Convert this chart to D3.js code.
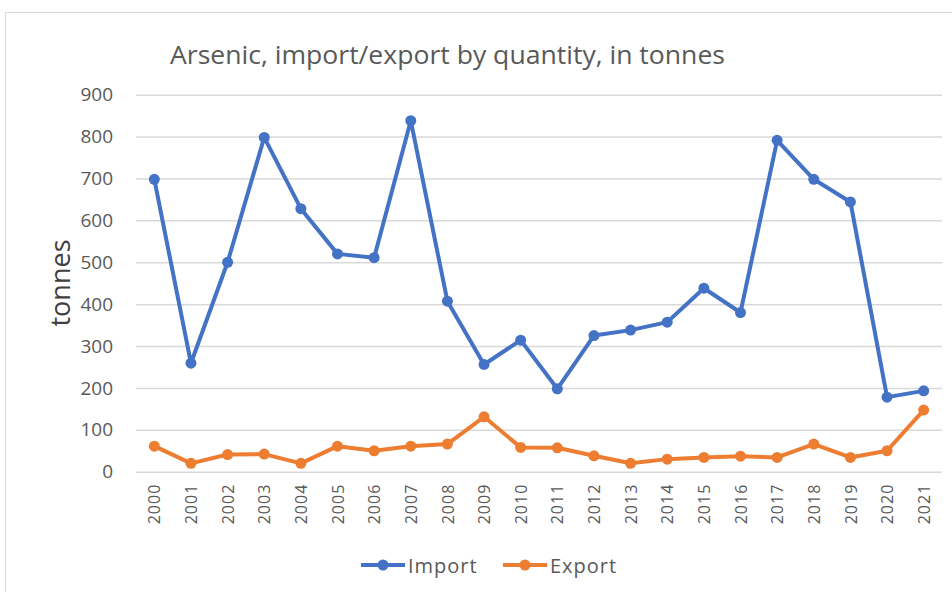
<!DOCTYPE html>
<html>
<head>
<meta charset="utf-8">
<script src="https://cdn.jsdelivr.net/npm/d3@7"></script>
<style>
  body { margin: 0; background: #fff; }
  svg { display: block; }
</style>
</head>
<body>
<div class="container"></div>
<script>
// data
const years = ["2000","2001","2002","2003","2004","2005","2006","2007","2008","2009","2010",
               "2011","2012","2013","2014","2015","2016","2017","2018","2019","2020","2021"];
const importValues = [698, 259, 500, 798, 628, 520, 511, 838, 407, 256, 314,
                      198, 325, 338, 357, 438, 380, 791, 698, 644, 178, 193];
const exportValues = [61, 20, 41, 42, 20, 61, 50, 61, 66, 131, 58,
                      57, 38, 20, 30, 34, 37, 34, 66, 34, 50, 147];
const yTicks = [0, 100, 200, 300, 400, 500, 600, 700, 800, 900];
const seriesNames = ["Import", "Export"];

const w = 952;
const h = 592;
const colors = { Import: "#4472C4", Export: "#ED7D31" };

/* plot area */
const plotLeft = 136, plotRight = 942, plotTop = 94.7, plotBottom = 471.7;

const xScale = d3.scalePoint()
                 .domain(years)
                 .range([plotLeft, plotRight])
                 .padding(0.5);

const yScale = d3.scaleLinear()
                 .domain([0, 900])
                 .range([plotBottom, plotTop]);

const svg = d3.select(".container")
              .append("svg")
              .attr("width", w)
              .attr("height", h);

// chart frame (only top and left edge visible in the reference)
svg.append("path")
   .attr("d", "M5.5,592 V12.5 H952")
   .attr("fill", "none")
   .attr("stroke", "#d9d9d9")
   .attr("stroke-width", 1);

// title
svg.append("text")
   .text("Arsenic, import/export by quantity, in tonnes")
   .attr("x", 170)
   .attr("y", 64)
   .attr("textLength", 555)
   .attr("lengthAdjust", "spacingAndGlyphs")
   .style("font-family", "'Open Sans', sans-serif")
   .style("font-size", "26px")
   .style("fill", "#595959");

/* y axis with gridlines */
const yAxis = d3.axisLeft(yScale)
                .tickValues(yTicks)
                .tickSize(-(plotRight - plotLeft))
                .tickPadding(23);

const gy = svg.append("g")
              .attr("transform", "translate(" + plotLeft + ",0)")
              .call(yAxis);
gy.select(".domain").remove();
gy.selectAll(".tick line")
  .attr("stroke", "#d9d9d9")
  .attr("stroke-width", 1.5);
gy.selectAll(".tick text")
  .style("font-family", "'Open Sans', sans-serif")
  .style("font-size", "19px")
  .style("fill", "#595959");

/* x axis, rotated labels */
const xAxis = d3.axisBottom(xScale).tickSize(0);
const gx = svg.append("g")
              .attr("transform", "translate(0," + plotBottom + ")")
              .call(xAxis);
gx.select(".domain").remove();
gx.selectAll(".tick text")
  .attr("transform", "rotate(-90)")
  .attr("x", -12)
  .attr("y", 0)
  .attr("dy", "0.35em")
  .style("text-anchor", "end")
  .style("font-family", "'Open Sans', sans-serif")
  .style("font-size", "16px")
  .style("letter-spacing", "1px")
  .style("fill", "#595959");

// y axis title
svg.append("text")
   .text("tonnes")
   .attr("transform", "translate(70,283) rotate(-90)")
   .style("text-anchor", "middle")
   .style("font-family", "'Open Sans', sans-serif")
   .style("font-size", "27px")
   .style("fill", "#404040");

/* lines and markers */
const series = [
  { name: "Import", values: importValues },
  { name: "Export", values: exportValues }
];

const line = d3.line()
               .x((d, i) => xScale(years[i]))
               .y((d) => yScale(d));

series.forEach((s) => {
  svg.append("path")
     .datum(s.values)
     .attr("d", line)
     .attr("fill", "none")
     .attr("stroke", colors[s.name])
     .attr("stroke-width", 4)
     .attr("stroke-linejoin", "round");

  svg.selectAll(".dot-" + s.name)
     .data(s.values)
     .enter()
     .append("circle")
     .attr("class", "dot-" + s.name)
     .attr("cx", (d, i) => xScale(years[i]))
     .attr("cy", (d) => yScale(d))
     .attr("r", 5.5)
     .attr("fill", colors[s.name]);
});

/* legend */
const legendX = [361, 503];
const legendY = 565;
seriesNames.forEach((name, i) => {
  const g = svg.append("g").attr("transform", "translate(" + legendX[i] + "," + legendY + ")");
  g.append("line")
   .attr("x1", 0).attr("x2", 44)
   .attr("stroke", colors[name])
   .attr("stroke-width", 4);
  g.append("circle")
   .attr("cx", 22).attr("r", 5.5)
   .attr("fill", colors[name]);
  g.append("text")
   .text(name)
   .attr("x", 47)
   .attr("y", 7.5)
   .style("font-family", "'Open Sans', sans-serif")
   .style("font-size", "20px")
   .style("letter-spacing", "1px")
   .style("fill", "#595959");
});
</script>
</body>
</html>
